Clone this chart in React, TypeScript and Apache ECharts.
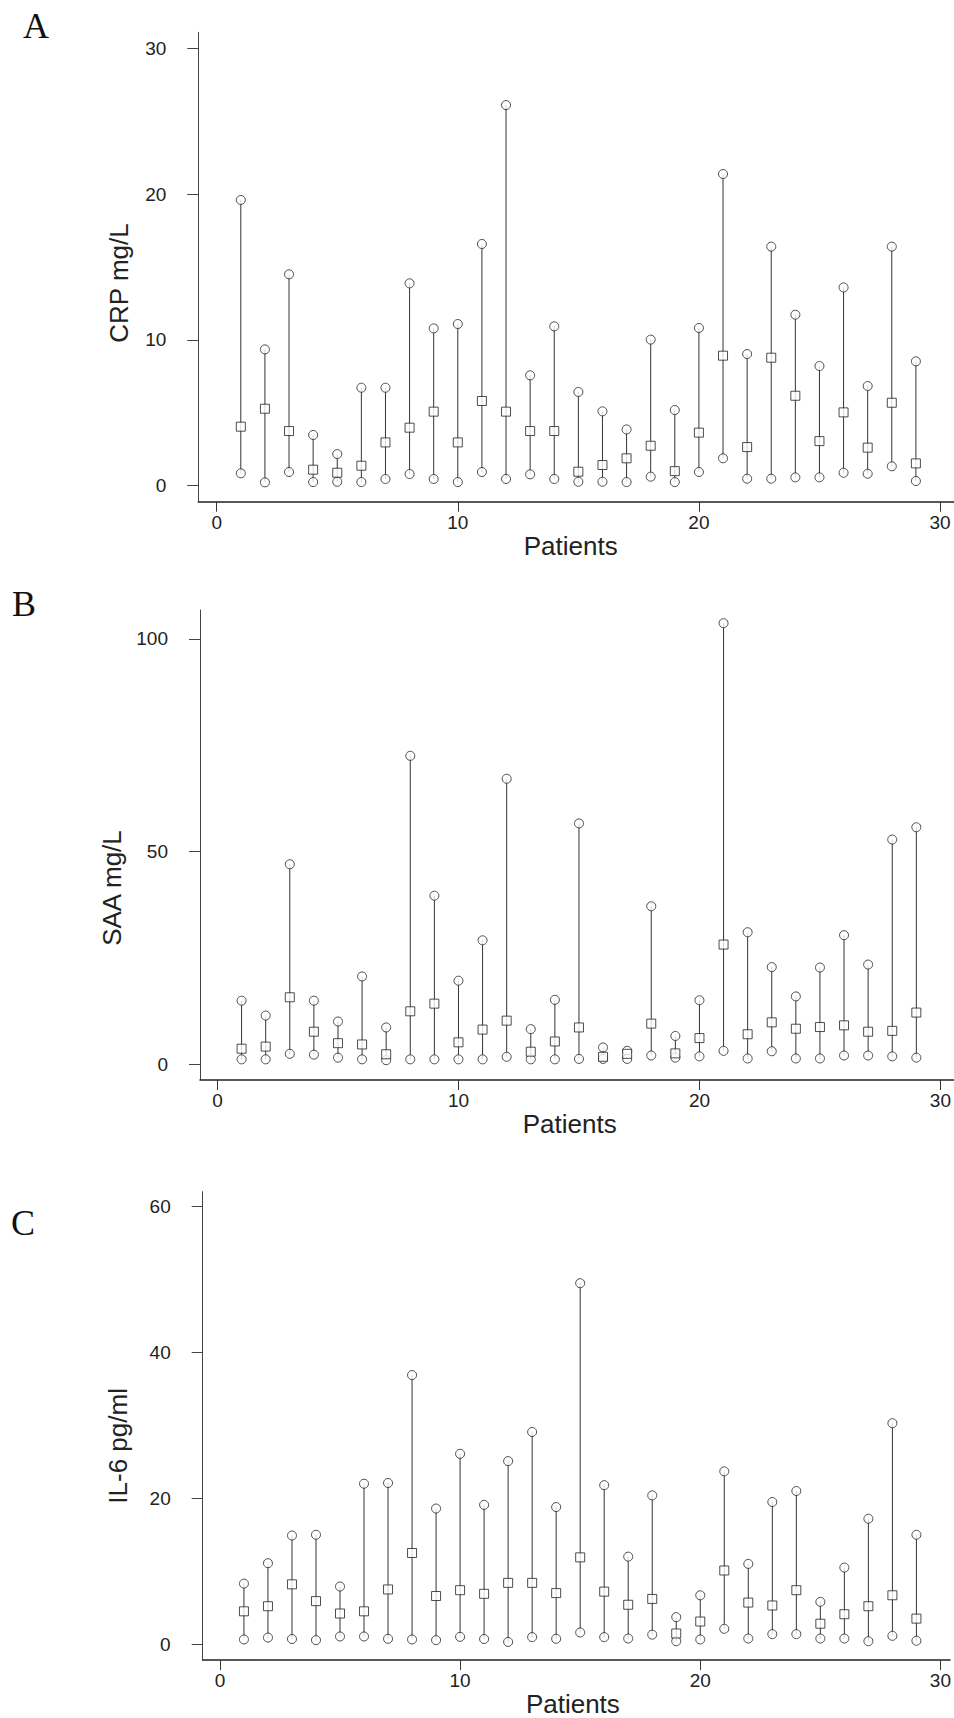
import React, { useEffect, useRef } from 'react';
import * as echarts from 'echarts';

const patients = [1, 2, 3, 4, 5, 6, 7, 8, 9, 10, 11, 12, 13, 14, 15, 16, 17, 18, 19, 20, 21, 22, 23, 24, 25, 26, 27, 28, 29];

const crpMax = [19.6, 9.35, 14.5, 3.48, 2.17, 6.72, 6.72, 13.88, 10.79, 11.09, 16.58, 26.11, 7.57, 10.93, 6.43, 5.1, 3.86, 10.02, 5.19, 10.82, 21.38, 9.03, 16.4, 11.73, 8.21, 13.6, 6.84, 16.4, 8.53];
const crpMedian = [4.05, 5.28, 3.75, 1.1, 0.89, 1.37, 2.97, 3.98, 5.08, 2.97, 5.81, 5.08, 3.75, 3.75, 0.96, 1.42, 1.88, 2.74, 1.0, 3.64, 8.92, 2.65, 8.78, 6.17, 3.06, 5.03, 2.61, 5.69, 1.53];
const crpMin = [0.85, 0.23, 0.94, 0.25, 0.27, 0.25, 0.46, 0.8, 0.46, 0.25, 0.94, 0.46, 0.78, 0.46, 0.27, 0.27, 0.25, 0.62, 0.25, 0.94, 1.88, 0.48, 0.48, 0.57, 0.57, 0.89, 0.82, 1.33, 0.32];

const saaMax = [14.9, 11.4, 47.0, 14.9, 10.0, 20.6, 8.6, 72.5, 39.6, 19.6, 29.1, 67.1, 8.2, 15.1, 56.6, 3.9, 3.1, 37.1, 6.6, 15.0, 103.7, 31.0, 22.8, 15.9, 22.7, 30.3, 23.4, 52.8, 55.7];
const saaMedian = [3.6, 4.1, 15.7, 7.6, 4.9, 4.6, 2.3, 12.4, 14.2, 5.1, 8.1, 10.2, 2.9, 5.3, 8.6, 1.7, 2.4, 9.5, 2.5, 6.1, 28.1, 7.0, 9.8, 8.3, 8.7, 9.1, 7.6, 7.8, 12.1];
const saaMin = [1.1, 1.1, 2.4, 2.2, 1.5, 1.1, 0.9, 1.1, 1.1, 1.1, 1.1, 1.7, 1.1, 1.1, 1.2, 1.2, 1.2, 2.0, 1.5, 1.8, 3.1, 1.3, 3.0, 1.3, 1.3, 2.0, 2.0, 1.8, 1.5];

const il6Max = [8.3, 11.1, 14.9, 15.0, 7.9, 22.0, 22.1, 36.9, 18.6, 26.1, 19.1, 25.1, 29.1, 18.8, 49.5, 21.8, 12.0, 20.4, 3.7, 6.7, 23.7, 11.0, 19.5, 21.0, 5.8, 10.5, 17.2, 30.3, 15.0];
const il6Median = [4.5, 5.2, 8.2, 5.9, 4.2, 4.5, 7.5, 12.5, 6.6, 7.4, 6.9, 8.4, 8.4, 7.0, 11.9, 7.2, 5.4, 6.2, 1.46, 3.1, 10.1, 5.7, 5.3, 7.4, 2.8, 4.1, 5.2, 6.7, 3.5];
const il6Min = [0.64, 0.9, 0.7, 0.55, 1.05, 1.05, 0.73, 0.64, 0.55, 1.0, 0.7, 0.3, 0.96, 0.73, 1.6, 0.96, 0.77, 1.3, 0.4, 0.64, 2.1, 0.77, 1.37, 1.37, 0.77, 0.77, 0.4, 1.14, 0.46];

const xTicks = [0, 10, 20, 30];
const crpTicks = [0, 10, 20, 30];
const saaTicks = [0, 50, 100];
const il6Ticks = [0, 20, 40, 60];

const xTitle = 'Patients';
const panelLetters = ['A', 'B', 'C'];
const yTitles = ['CRP mg/L', 'SAA mg/L', 'IL-6 pg/ml'];

const FONT = "'Liberation Sans', Arial, sans-serif";
const INK = '#222';

type PanelCfg = {
  grid: { left: number; top: number; width: number; height: number };
  xMin: number; xMax: number; yMin: number; yMax: number;
  yTicks: number[];
  yTitle: string;
  yNameGap: number; yNameShift: number; xNameShift: number;
  mins: number[]; meds: number[]; maxs: number[];
  letter: { text: string; x: number; y: number };
};

const panels: PanelCfg[] = [
  {
    grid: { left: 198.3, top: 32.3, width: 755.7, height: 469.4 },
    xMin: -0.763, xMax: 30.58, yMin: -1.097, yMax: 31.1,
    yTicks: crpTicks, yTitle: yTitles[0], yNameGap: 66, yNameShift: 32, xNameShift: 11,
    mins: crpMin, meds: crpMedian, maxs: crpMax,
    letter: { text: panelLetters[0], x: 23, y: 25.5 },
  },
  {
    grid: { left: 200, top: 610, width: 754, height: 470 },
    xMin: -0.726, xMax: 30.54, yMin: -3.76, yMax: 106.8,
    yTicks: saaTicks, yTitle: yTitles[1], yNameGap: 70, yNameShift: 86, xNameShift: 14,
    mins: saaMin, meds: saaMedian, maxs: saaMax,
    letter: { text: panelLetters[1], x: 12, y: 603.8 },
  },
  {
    grid: { left: 202.7, top: 1191.7, width: 751.3, height: 470 },
    xMin: -0.717, xMax: 30.4, yMin: -2.19, yMax: 62.05,
    yTicks: il6Ticks, yTitle: yTitles[2], yNameGap: 72, yNameShift: 40, xNameShift: 7,
    mins: il6Min, meds: il6Median, maxs: il6Max,
    letter: { text: panelLetters[2], x: 11, y: 1222.8 },
  },
];

function buildOption() {
  const grid: any[] = [];
  const xAxis: any[] = [];
  const yAxis: any[] = [];
  const series: any[] = [];
  const graphic: any[] = [];

  panels.forEach((p, i) => {
    grid.push({ ...p.grid, containLabel: false });
    xAxis.push({
      gridIndex: i,
      type: 'value',
      min: p.xMin,
      max: p.xMax,
      axisLine: { show: true, onZero: false, lineStyle: { color: INK, width: 1.5 } },
      axisTick: { show: true, length: 10, customValues: xTicks, lineStyle: { color: '#333', width: 1 } },
      axisLabel: { show: true, customValues: xTicks, margin: 11, fontSize: 19, fontFamily: FONT, color: INK },
      splitLine: { show: false },
      name: xTitle,
      nameLocation: 'middle',
      nameGap: 30,
      nameTextStyle: { fontSize: 26, fontFamily: FONT, color: INK, padding: [0, p.xNameShift, 0, 0] },
    });
    yAxis.push({
      gridIndex: i,
      type: 'value',
      min: p.yMin,
      max: p.yMax,
      axisLine: { show: true, onZero: false, lineStyle: { color: '#444', width: 1 } },
      axisTick: { show: true, length: 11, customValues: p.yTicks, lineStyle: { color: '#444', width: 1 } },
      axisLabel: { show: true, customValues: p.yTicks, margin: 32, fontSize: 19, fontFamily: FONT, color: INK },
      splitLine: { show: false },
      name: p.yTitle,
      nameLocation: 'middle',
      nameRotate: 90,
      nameGap: p.yNameGap,
      nameTextStyle: { fontSize: 26, fontFamily: FONT, color: INK, padding: [0, p.yNameShift, 0, 0] },
    });

    series.push({
      type: 'custom',
      xAxisIndex: i,
      yAxisIndex: i,
      data: patients.map((pt, k) => [pt, p.mins[k], p.maxs[k]]),
      encode: { x: 0, y: [1, 2] },
      renderItem: (params: any, api: any) => {
        const x = api.value(0);
        const a = api.coord([x, api.value(1)]);
        const b = api.coord([x, api.value(2)]);
        return {
          type: 'line',
          shape: { x1: a[0], y1: a[1], x2: b[0], y2: b[1] },
          style: { stroke: '#333', lineWidth: 1 },
        };
      },
      z: 1,
    });

    const markerStyle = { color: '#fff', borderColor: INK, borderWidth: 1 };
    series.push({
      type: 'scatter', xAxisIndex: i, yAxisIndex: i,
      symbol: 'circle', symbolSize: [9, 9],
      itemStyle: markerStyle,
      data: patients.map((pt, k) => [pt, p.maxs[k]]),
      z: 3,
    });
    series.push({
      type: 'scatter', xAxisIndex: i, yAxisIndex: i,
      symbol: 'circle', symbolSize: [9, 9],
      itemStyle: markerStyle,
      data: patients.map((pt, k) => [pt, p.mins[k]]),
      z: 3,
    });
    series.push({
      type: 'scatter', xAxisIndex: i, yAxisIndex: i,
      symbol: 'rect', symbolSize: [9, 9],
      itemStyle: markerStyle,
      data: patients.map((pt, k) => [pt, p.meds[k]]),
      z: 4,
    });

    graphic.push({
      type: 'text',
      x: p.letter.x,
      y: p.letter.y,
      style: {
        text: p.letter.text,
        fontSize: 36,
        fontFamily: "'Liberation Serif', 'Times New Roman', serif",
        fill: '#111',
        verticalAlign: 'middle',
        align: 'left',
      },
    });
  });

  return {
    animation: false,
    backgroundColor: '#fff',
    grid,
    xAxis,
    yAxis,
    series,
    graphic,
  };
}

export default function App() {
  const ref = useRef<HTMLDivElement>(null);
  useEffect(() => {
    if (!ref.current) return;
    const chart = echarts.init(ref.current, undefined, { renderer: 'svg' });
    chart.setOption(buildOption() as any);
    return () => chart.dispose();
  }, []);
  return (
    <div
      ref={ref}
      style={{ position: 'absolute', left: 0, top: 0, width: 954, height: 1718, background: '#fff' }}
    />
  );
}
